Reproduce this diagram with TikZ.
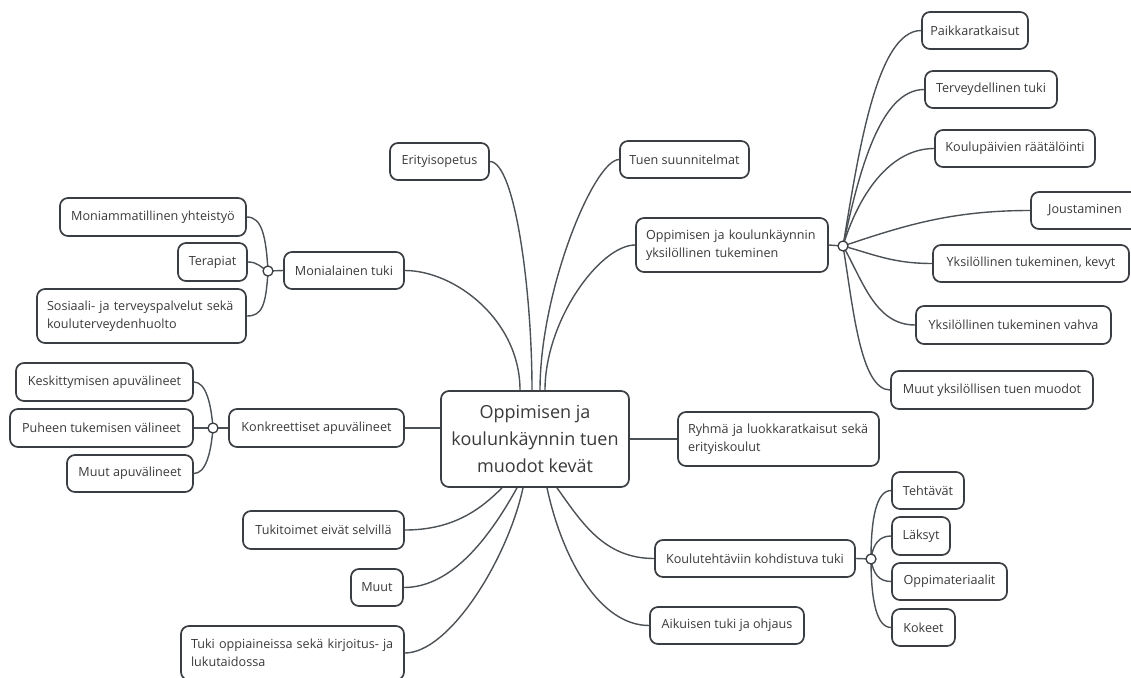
\documentclass[tikz,border=0pt]{standalone}
\usepackage{fontspec}
\setmainfont{Open Sans}
\definecolor{bordc}{HTML}{3A3E42}
\definecolor{txtc}{HTML}{3A3A3A}
\definecolor{linec}{HTML}{4C5156}
\tikzset{
  box/.style={draw=bordc, line width=1.7pt, rounded corners=8pt, fill=white, text=txtc,
    font=\fontsize{12.6}{18}\selectfont, inner sep=0pt, align=center},
  box2/.style={box, align=left},
  conn/.style={draw=linec, line width=1.4pt},
  junc/.style={circle, draw=bordc, fill=white, line width=1.3pt, minimum size=10pt, inner sep=0pt},
}
\begin{document}
\begin{tikzpicture}[x=1pt, y=-1pt]
\useasboundingbox (0,0) rectangle (1131,677);
% root
\node[box, font=\fontsize{18}{27}\selectfont, minimum width=188, minimum height=96] (root) at (535,439) {Oppimisen ja\\koulunkäynnin tuen\\muodot kevät};
% left first level
\node[box, minimum width=99, minimum height=37] (erity) at (439.5,161.5) {Erityisopetus};
\node[box, minimum width=120, minimum height=37] (monia) at (344,270.5) {Monialainen tuki};
\node[box, minimum width=175, minimum height=38] (konk) at (316.5,428) {Konkreettiset apuvälineet};
\node[box, minimum width=161, minimum height=38] (tukit) at (323.5,530) {Tukitoimet eivät selvillä};
\node[box, minimum width=52, minimum height=37] (muut) at (377,587.5) {Muut};
\node[box2, text width=203, minimum height=54, inner xsep=10pt] (tukiopp) at (292.5,653) {Tuki oppiaineissa sekä kirjoitus- ja\\lukutaidossa};
% Monialainen children
\node[box, minimum width=186, minimum height=38] (moniam) at (153,217) {Moniammatillinen yhteistyö};
\node[box, minimum width=69, minimum height=38] (terap) at (212.5,262) {Terapiat};
\node[box2, text width=189, minimum height=54, inner xsep=10pt] (sosi) at (141.5,316) {Sosiaali- ja terveyspalvelut sekä\\kouluterveydenhuolto};
% Konkreettiset children
\node[box, minimum width=177, minimum height=38] (keskit) at (104.5,382) {Keskittymisen apuvälineet};
\node[box, minimum width=183, minimum height=38] (puheen) at (101.5,428) {Puheen tukemisen välineet};
\node[box, minimum width=126, minimum height=37] (muutapu) at (130,473.5) {Muut apuvälineet};
% right first level
\node[box, minimum width=129, minimum height=37] (tuen) at (684.5,159.5) {Tuen suunnitelmat};
\node[box2, text width=172, minimum height=54, inner xsep=10pt] (yksil) at (732,245) {Oppimisen ja koulunkäynnin\\yksilöllinen tukeminen};
\node[box2, text width=181, minimum height=54, inner xsep=10pt] (ryhma) at (778.5,439) {Ryhmä ja luokkaratkaisut sekä\\erityiskoulut};
\node[box, minimum width=200, minimum height=37] (koulut) at (755,558.5) {Koulutehtäviin kohdistuva tuki};
\node[box, minimum width=154, minimum height=37] (aikuis) at (727,625.5) {Aikuisen tuki ja ohjaus};
% Yksilöllinen children
\node[box, minimum width=106, minimum height=37] (paikka) at (975,30.5) {Paikkaratkaisut};
\node[box, minimum width=132, minimum height=37] (terveyd) at (991,89.5) {Terveydellinen tuki};
\node[box, minimum width=160, minimum height=37] (koulup) at (1015,148.5) {Koulupäivien räätälöinti};
\node[box, minimum width=108, minimum height=37] (jousta) at (1085,210.5) {Joustaminen};
\node[box, minimum width=196, minimum height=37] (kevyt) at (1031,263.5) {Yksilöllinen tukeminen, kevyt};
\node[box, minimum width=195, minimum height=38] (vahva) at (1013.5,325) {Yksilöllinen tukeminen vahva};
\node[box, minimum width=202, minimum height=38] (muutyks) at (992,390) {Muut yksilöllisen tuen muodot};
% Koulutehtäviin children
\node[box, minimum width=72, minimum height=37] (tehtavat) at (928,490.5) {Tehtävät};
\node[box, minimum width=58, minimum height=38] (laksyt) at (921,536) {Läksyt};
\node[box, minimum width=115, minimum height=37] (oppimat) at (949.5,581.5) {Oppimateriaalit};
\node[box, minimum width=63, minimum height=37] (kokeet) at (923.5,627.5) {Kokeet};
% junction points
\coordinate (j1) at (268,271);
\coordinate (j2) at (213,428);
\coordinate (j3) at (843,246);
\coordinate (j4) at (871,559);
% root connectors
\draw[conn] (monia.east) .. controls +(50,0) and +(0,-70) .. ([xshift=-15pt]root.north);
\draw[conn] (erity.east) .. controls +(25,0) and +(0,-100) .. ([xshift=-3pt]root.north);
\draw[conn] (tuen.west) .. controls +(-25,0) and +(0,-100) .. ([xshift=5pt]root.north);
\draw[conn] (yksil.west) .. controls +(-35,0) and +(0,-70) .. ([xshift=10pt]root.north);
\draw[conn] (konk.east) -- (konk.east -| root.west);
\draw[conn] (root.east) -- (ryhma.west);
\draw[conn] (tukit.east) .. controls +(50,0) and +(-20,20) .. ([xshift=-33pt]root.south);
\draw[conn] (muut.east) .. controls +(50,0) and +(-25,45) .. ([xshift=-18pt]root.south);
\draw[conn] (tukiopp.east) .. controls +(45,0) and +(-15,70) .. ([xshift=-12pt]root.south);
\draw[conn] (aikuis.west) .. controls +(-50,0) and +(15,70) .. ([xshift=12pt]root.south);
\draw[conn] (koulut.west) .. controls +(-50,0) and +(25,35) .. ([xshift=22pt]root.south);
% junction 1
\draw[conn] (monia.west) -- (j1);
\draw[conn] (moniam.east) .. controls +(15,0) and +(-2,-35) .. (j1);
\draw[conn] (terap.east) .. controls +(10,0) and +(-8,-4) .. (j1);
\draw[conn] (sosi.east) .. controls +(15,0) and +(-2,35) .. (j1);
% junction 2
\draw[conn] (konk.west) -- (j2);
\draw[conn] (keskit.east) .. controls +(12,0) and +(-2,-25) .. (j2);
\draw[conn] (puheen.east) -- (j2);
\draw[conn] (muutapu.east) .. controls +(12,0) and +(-2,25) .. (j2);
% junction 3
\draw[conn] (yksil.east) -- (j3);
\draw[conn] (paikka.west) .. controls +(-45,0) and +(15,-90) .. (j3);
\draw[conn] (terveyd.west) .. controls +(-45,0) and +(15,-70) .. (j3);
\draw[conn] (koulup.west) .. controls +(-45,0) and +(15,-50) .. (j3);
\draw[conn] (jousta.west) .. controls +(-80,0) and +(60,-20) .. (j3);
\draw[conn] (kevyt.west) .. controls +(-40,0) and +(30,8) .. (j3);
\draw[conn] (vahva.west) .. controls +(-40,0) and +(20,35) .. (j3);
\draw[conn] (muutyks.west) .. controls +(-30,0) and +(10,60) .. (j3);
% junction 4
\draw[conn] (koulut.east) -- (j4);
\draw[conn] (tehtavat.west) .. controls +(-15,0) and +(0,-40) .. (j4);
\draw[conn] (laksyt.west) .. controls +(-12,0) and +(2,-15) .. (j4);
\draw[conn] (oppimat.west) .. controls +(-12,0) and +(2,15) .. (j4);
\draw[conn] (kokeet.west) .. controls +(-15,0) and +(0,40) .. (j4);
\node[junc] (c1) at (j1) {};
\node[junc] (c2) at (j2) {};
\node[junc] (c3) at (j3) {};
\node[junc] (c4) at (j4) {};
\end{tikzpicture}
\end{document}
